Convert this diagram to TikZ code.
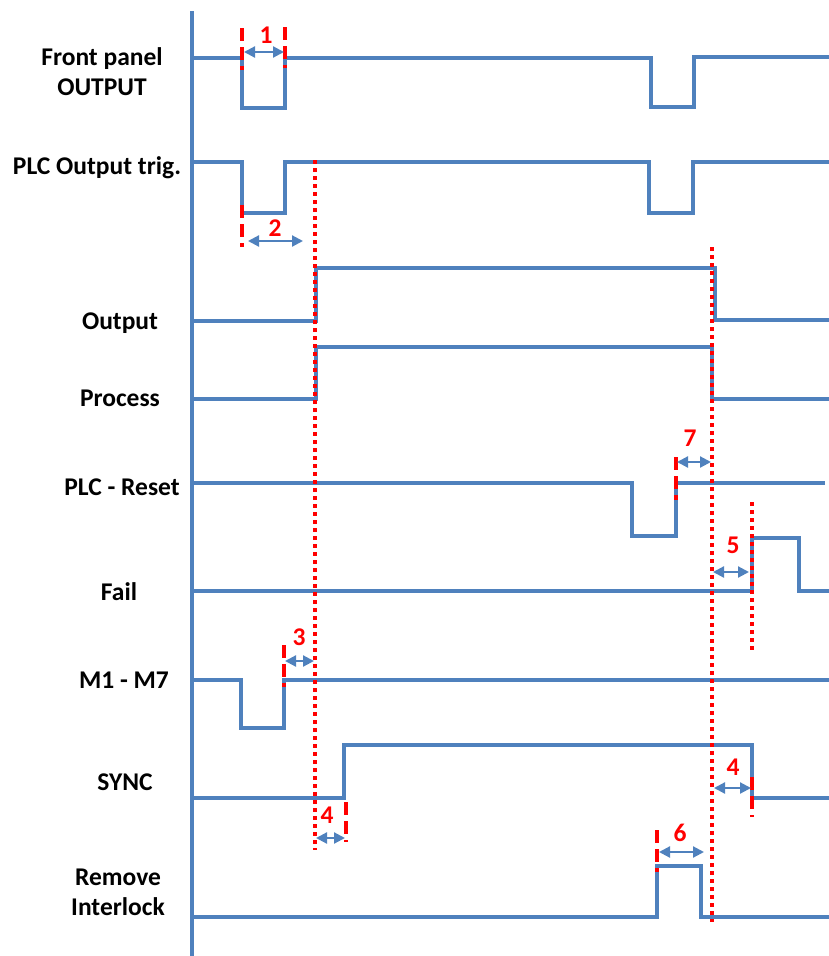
\documentclass[tikz,border=0pt]{standalone}
\usepackage{fontspec}
\setmainfont{Carlito}
\usetikzlibrary{arrows.meta}
\definecolor{azul}{HTML}{4F81BD}
\definecolor{rojo}{HTML}{FF0000}

\begin{document}
\begin{tikzpicture}[x=1pt, y=-1pt, font=\fontsize{25.5}{30}\selectfont\bfseries,
      sig/.style={azul, line width=3.2pt},
      cut/.style={rojo, line width=3.5pt, dash pattern=on 3.5pt off 4.5pt},
      tickmark/.style={rojo, line width=4pt, dash pattern=on 13pt off 6pt},
      gap/.style={azul, line width=2.2pt, {Triangle[length=11pt,width=11pt]}-{Triangle[length=11pt,width=11pt]}},
      num/.style={text=rojo, inner sep=0pt},
      lbl/.style={align=center, inner sep=0pt}]
    \useasboundingbox (0,0) rectangle (829,956);
    % signal names
    \node[lbl] (fp)    at (102,72)  {Front panel\\OUTPUT};
    \node[lbl] (trig)  at (97,168)  {PLC Output trig.};
    \node[lbl] (out)   at (120,323) {Output};
    \node[lbl] (proc)  at (120,398) {Process};
    \node[lbl] (reset) at (122,487) {PLC - Reset};
    \node[lbl] (fail)  at (119,592) {Fail};
    \node[lbl] (mm)    at (124,680) {M1 - M7};
    \node[lbl] (sync)  at (125,782) {SYNC};
    \node[lbl] (ilock) at (118,892) {Remove\\Interlock};
    % time axis
    \draw[sig] (192,11) -- (192,956);
    % waveforms
    \draw[sig] (192,58) -- (242,58) |- (285,108) |- (651,58) |- (694,107) |- (829,57);
    \draw[sig] (192,162) -- (242,162) |- (285,213) |- (649,162) |- (693,213) |- (829,162);
    \draw[sig] (192,321) -- (316,321) |- (715,268) |- (829,320);
    \draw[sig] (192,399) -- (316,399) |- (712,347) |- (829,399);
    \draw[sig] (192,483) -- (632,483) |- (676,536) |- (825,483);
    \draw[sig] (192,591) -- (752,591) |- (799,538) |- (829,591);
    \draw[sig] (192,680) -- (241,680) |- (284,728) |- (829,680);
    \draw[sig] (192,798) -- (344,798) |- (752,745) |- (829,798);
    \draw[sig] (192,917) -- (657,917) |- (701,866) |- (829,917);
    % reference lines
    \draw[cut] (315,160) -- (315,850);
    \draw[cut] (712,247) -- (712,922);
    \draw[cut] (752,502) -- (752,652);
    % edge marks
    \draw[tickmark] (242,28) -- (242,70);
    \draw[tickmark] (285,27) -- (285,68);
    \draw[tickmark] (242,205) -- (242,247);
    \draw[tickmark] (676,457) -- (676,500);
    \draw[tickmark] (284,645) -- (284,687);
    \draw[tickmark] (346,802) -- (346,842);
    \draw[tickmark] (752,777) -- (752,817);
    \draw[tickmark] (657,830) -- (657,872);
    % delays
    \draw[gap] (244,52) -- (284,52);
    \draw[gap] (248,241) -- (303,241);
    \draw[gap] (677,462) -- (711,462);
    \draw[gap] (713,572) -- (749,572);
    \draw[gap] (285,661) -- (314,661);
    \draw[gap] (316,838) -- (345,838);
    \draw[gap] (714,788) -- (751,788);
    \draw[gap] (659,852) -- (704,852);
    \node[num] (n1)  at (266,35)  {1};
    \node[num] (n2)  at (275,228) {2};
    \node[num] (n7)  at (690,438) {7};
    \node[num] (n5)  at (733,545) {5};
    \node[num] (n3)  at (299,637) {3};
    \node[num] (n4a) at (327,815) {4};
    \node[num] (n4b) at (733,767) {4};
    \node[num] (n6)  at (680,833) {6};
  \end{tikzpicture}
\end{document}
